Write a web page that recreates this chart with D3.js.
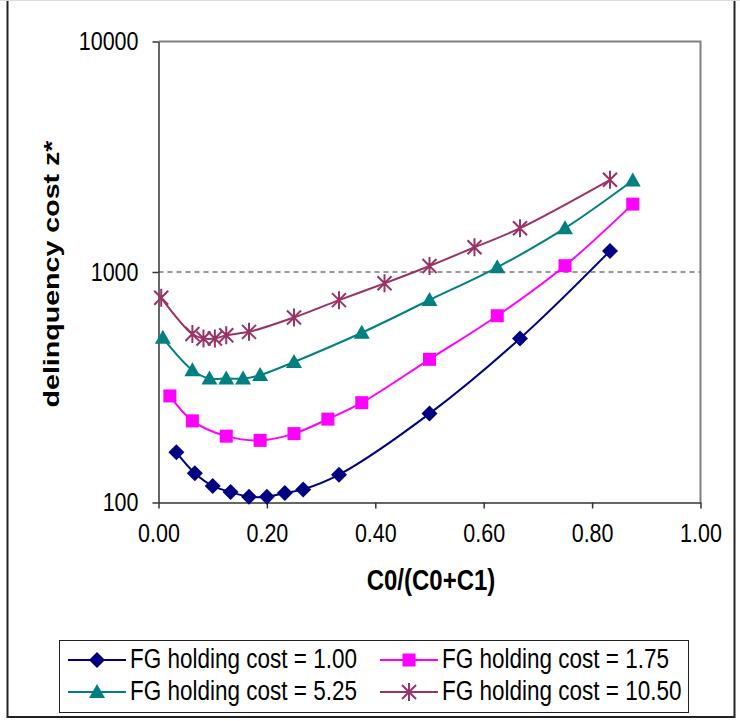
<!DOCTYPE html>
<html>
<head>
<meta charset="utf-8">
<script src="https://cdn.jsdelivr.net/npm/d3@7"></script>
<style>
  body { margin: 0; background: #fff; }
  svg { display: block; font-family: "Liberation Sans", Arial, sans-serif; }
</style>
</head>
<body>
<svg id="chart" width="740" height="721"></svg>
<script>
// values
var xTicks = [0, 0.2, 0.4, 0.6, 0.8, 1.0],
    yTicks = [100, 1000, 10000];

var x_hc100 = [0.033, 0.067, 0.1, 0.133, 0.167, 0.2, 0.233, 0.267, 0.333, 0.5, 0.667, 0.833],
    y_hc100 = [165, 134, 118, 111, 106, 106, 110, 114, 132, 243, 515, 1234];

var x_hc175 = [0.021, 0.0625, 0.125, 0.1875, 0.25, 0.3125, 0.375, 0.5, 0.625, 0.75, 0.875],
    y_hc175 = [290, 226, 194, 186, 199, 230, 271, 418, 646, 1065, 1970];

var x_hc525 = [0.008, 0.0625, 0.094, 0.125, 0.156, 0.1875, 0.25, 0.375, 0.5, 0.625, 0.75, 0.875],
    y_hc525 = [518, 375, 345, 345, 345, 357, 407, 545, 756, 1048, 1549, 2494];

var x_hc1050 = [0.005, 0.0625, 0.083, 0.104, 0.125, 0.167, 0.25, 0.333, 0.417, 0.5, 0.583, 0.667, 0.833],
    y_hc1050 = [773, 538, 515, 515, 532, 550, 635, 755, 893, 1062, 1280, 1549, 2512];

var seriesNames = ["FG holding cost = 1.00", "FG holding cost = 1.75",
                   "FG holding cost = 5.25", "FG holding cost = 10.50"];

var series = [
  { name: seriesNames[0], xs: x_hc100, ys: y_hc100, color: "#000080", marker: "diamond" },
  { name: seriesNames[1], xs: x_hc175, ys: y_hc175, color: "#ff00ff", marker: "square" },
  { name: seriesNames[2], xs: x_hc525, ys: y_hc525, color: "#008080", marker: "triangle" },
  { name: seriesNames[3], xs: x_hc1050, ys: y_hc1050, color: "#993366", marker: "star" }
];

// the original picture is stretched a bit vertically, text too
var stretch = 1.2;

var svg = d3.select("#chart");

// outer chart frame
svg.append("rect")
  .attr("x", 7.5).attr("y", -2)
  .attr("width", 727).attr("height", 719)
  .attr("fill", "none").attr("stroke", "#222").attr("stroke-width", 2);
svg.append("line")
  .attr("x1", 0).attr("x2", 740).attr("y1", 0.5).attr("y2", 0.5)
  .attr("stroke", "#ddd");

var plot = { left: 158.5, right: 700.5, top: 41.5, bottom: 502.5 };

var x = d3.scaleLinear().domain([0, 1]).range([plot.left, plot.right]);
var y = d3.scaleLog().domain([100, 10000]).range([plot.bottom, plot.top]);

// plot area border (grey top / right)
svg.append("path")
  .attr("d", `M${plot.left},${plot.top}H${plot.right}V${plot.bottom}`)
  .attr("fill", "none").attr("stroke", "#808080").attr("stroke-width", 2);

// dashed reference at 1000
svg.append("line")
  .attr("x1", plot.left).attr("x2", plot.right)
  .attr("y1", y(1000)).attr("y2", y(1000))
  .attr("stroke", "#777").attr("stroke-width", 1.3)
  .attr("stroke-dasharray", "5,4");

// axes
var xAxis = d3.axisBottom(x).tickValues(xTicks).tickFormat(d3.format(".2f"))
  .tickSizeInner(6).tickSizeOuter(0).tickPadding(12);
var yAxis = d3.axisLeft(y).tickValues(yTicks).tickFormat(d3.format("d"))
  .tickSizeInner(6).tickSizeOuter(0).tickPadding(14);

var gx = svg.append("g").attr("transform", `translate(0,${plot.bottom})`).call(xAxis);
var gy = svg.append("g").attr("transform", `translate(${plot.left},0)`).call(yAxis);

[gx, gy].forEach(function(g) {
  g.select(".domain").attr("stroke", "#333").attr("stroke-width", 1.5);
  g.selectAll(".tick line").attr("stroke", "#333").attr("stroke-width", 1.5);
  g.selectAll(".tick text").attr("fill", "#000")
    .attr("transform", `scale(1,${stretch})`)
    .style("font-size", "21.5px").style("font-family", "Liberation Sans, Arial, sans-serif");
});

// axis titles
svg.append("text")
  .attr("transform", `translate(431,590) scale(1,${stretch})`)
  .attr("text-anchor", "middle")
  .style("font-size", "24px").style("font-weight", "bold")
  .text("C0/(C0+C1)");

svg.append("text")
  .attr("transform", "translate(59,274) rotate(-90) scale(1.3,1)")
  .attr("text-anchor", "middle")
  .style("font-size", "22px").style("font-weight", "bold")
  .text("delinquency cost z*");

// marker drawing
function drawMarker(g, type, color) {
  if (type === "diamond") {
    g.append("path").attr("d", "M0,-8L8,0L0,8L-8,0Z").attr("fill", color);
  } else if (type === "square") {
    g.append("rect").attr("x", -6.5).attr("y", -6.5).attr("width", 13).attr("height", 13)
      .attr("fill", color);
  } else if (type === "triangle") {
    g.append("path").attr("d", "M0,-8L8,6L-8,6Z").attr("fill", color);
  } else if (type === "star") {
    g.append("path").attr("d", "M-7,-7L7,7M-7,7L7,-7M0,-9V9")
      .attr("stroke", color).attr("stroke-width", 2).attr("fill", "none");
  }
}

var line = d3.line()
  .x(function(d) { return x(d[0]); })
  .y(function(d) { return y(d[1]); })
  .curve(d3.curveCatmullRom.alpha(0.5));

series.forEach(function(s) {
  var pts = s.xs.map(function(v, i) { return [v, s.ys[i]]; });
  svg.append("path")
    .datum(pts)
    .attr("d", line)
    .attr("fill", "none")
    .attr("stroke", s.color)
    .attr("stroke-width", 2);

  svg.append("g").selectAll("g")
    .data(pts)
    .enter()
    .append("g")
    .attr("transform", function(d) { return `translate(${x(d[0])},${y(d[1])})`; })
    .each(function() { drawMarker(d3.select(this), s.marker, s.color); });
});

// legend
var legend = svg.append("g");
legend.append("rect")
  .attr("x", 59.5).attr("y", 640.5).attr("width", 629).attr("height", 72)
  .attr("fill", "#fff").attr("stroke", "#222").attr("stroke-width", 1);

var legPos = [[68, 660], [380, 660], [68, 692], [380, 692]];
series.forEach(function(s, i) {
  var p = legPos[i];
  var g = legend.append("g").attr("transform", `translate(${p[0]},${p[1]})`);
  g.append("line").attr("x1", 0).attr("x2", 58).attr("y1", 0).attr("y2", 0)
    .attr("stroke", s.color).attr("stroke-width", 2);
  drawMarker(g.append("g").attr("transform", "translate(29,0)"), s.marker, s.color);
  g.append("text")
    .attr("transform", `translate(62,8) scale(1,${stretch})`)
    .style("font-size", "22.5px")
    .text(s.name);
});
</script>
</body>
</html>
